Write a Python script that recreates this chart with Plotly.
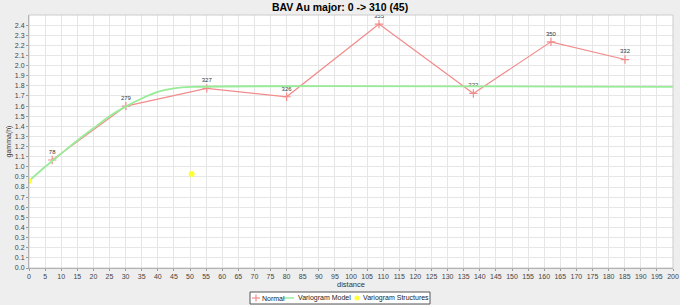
import plotly.graph_objects as go

# Experimental variogram (Normal)
lag_dist = [7.2, 30.1, 55.2, 80.0, 108.7, 138.0, 162.1, 185.1]
gamma = [1.067, 1.60, 1.775, 1.692, 2.41, 1.725, 2.235, 2.06]
pair_counts = ["78", "279", "327", "326", "355", "222", "350", "332"]

# Variogram model
model_x = [0, 5, 10, 15, 20, 25, 30, 35, 40, 45, 50.5, 200]
model_y = [0.86, 1.00, 1.13, 1.26, 1.38, 1.50, 1.595, 1.675, 1.74, 1.775, 1.79, 1.79]

# Variogram structures
struct_x = [0, 50.5]
struct_y = [0.86, 0.93]

x_ticks = list(range(0, 201, 5))
y_ticks = [round(i * 0.1, 1) for i in range(0, 25)]

series_names = ["Normal", "Variogram Model", "Variogram Structures"]
colors = {"Normal": "#f28b8b", "Variogram Model": "#98ec98", "Variogram Structures": "#ffff33"}

W, H = 680, 305
ML, MR, MT, MB = 29, 7, 15, 37
PW, PH = W - ML - MR, H - MT - MB


def px(x):
    return (x - ML) / PW


def py(y):
    return (H - MB - y) / PH


fig = go.Figure()
fig.add_trace(go.Scatter(
    x=lag_dist, y=gamma, mode="lines+markers+text", name=series_names[0],
    line=dict(color=colors["Normal"], width=1.2),
    marker=dict(symbol="cross-thin", size=6, line=dict(color=colors["Normal"], width=1.2)),
    text=pair_counts, textposition="top center",
    textfont=dict(size=6, color="#333333", family="Liberation Sans"),
))
fig.add_trace(go.Scatter(
    x=model_x, y=model_y, mode="lines", name=series_names[1],
    line=dict(color=colors["Variogram Model"], width=1.8, shape="spline", smoothing=0.6),
))
fig.add_trace(go.Scatter(
    x=struct_x, y=struct_y, mode="markers", name=series_names[2],
    marker=dict(symbol="circle", size=6, color=colors["Variogram Structures"]),
))

fig.update_layout(
    width=W, height=H,
    margin=dict(l=ML, r=MR, t=MT, b=MB, autoexpand=False),
    paper_bgcolor="#eeeeee", plot_bgcolor="#ffffff",
    title=dict(text="<b>BAV Au major: 0 -> 310 (45)</b>", x=0.5, xanchor="center",
               y=1 - 7 / H, yanchor="middle",
               font=dict(size=10.5, family="Liberation Sans", color="#000000")),
    font=dict(family="Liberation Sans", size=7, color="#444444"),
    showlegend=False,
)
fig.update_xaxes(
    range=[0, 200], tickvals=x_ticks, ticktext=[str(v) for v in x_ticks],
    showgrid=True, gridcolor="#e6e6e6", gridwidth=1,
    showline=True, linecolor="#999999", mirror=False,
    ticks="outside", ticklen=2, tickcolor="#999999",
    tickfont=dict(size=7), zeroline=False, ticklabeloverflow="allow",
    title=dict(text="distance", font=dict(size=7.5, color="#333333"), standoff=1),
)
fig.update_yaxes(
    range=[0, 2.5], tickvals=y_ticks, ticktext=[f"{v:.1f}" for v in y_ticks],
    showgrid=True, gridcolor="#e6e6e6", gridwidth=1,
    showline=True, linecolor="#999999", mirror=False,
    ticks="outside", ticklen=2, tickcolor="#999999",
    tickfont=dict(size=7), zeroline=False,
    title=dict(text="gamma(h)", font=dict(size=7, color="#333333"), standoff=2),
)
fig.add_shape(type="rect", xref="paper", yref="paper", x0=0, y0=0, x1=1, y1=1,
              line=dict(color="#cccccc", width=1))

# Compact legend box (like the original)
ly = 298
fig.add_shape(type="rect", xref="paper", yref="paper",
              x0=px(250), x1=px(430), y0=py(292), y1=py(304),
              line=dict(color="#555555", width=1), fillcolor="#ffffff", layer="above")
# Normal key: plus sign with a short line
fig.add_shape(type="line", xref="paper", yref="paper", x0=px(252), x1=px(260), y0=py(ly), y1=py(ly),
              line=dict(color=colors["Normal"], width=1.2))
fig.add_shape(type="line", xref="paper", yref="paper", x0=px(256), x1=px(256), y0=py(ly - 3.5), y1=py(ly + 3.5),
              line=dict(color=colors["Normal"], width=1.2))
# Variogram model key: line
fig.add_shape(type="line", xref="paper", yref="paper", x0=px(283), x1=px(294), y0=py(ly), y1=py(ly),
              line=dict(color=colors["Variogram Model"], width=1.5))
# Structures key: dot
fig.add_shape(type="circle", xref="paper", yref="paper", x0=px(354.5), x1=px(359.5),
              y0=py(ly - 2.5), y1=py(ly + 2.5),
              line=dict(color=colors["Variogram Structures"], width=0),
              fillcolor=colors["Variogram Structures"])
for name, x0 in zip(series_names, [261, 297, 362]):
    fig.add_annotation(text=name, xref="paper", yref="paper", x=px(x0), y=py(ly),
                       xanchor="left", yanchor="middle", showarrow=False, borderpad=0,
                       font=dict(size=7, family="Liberation Sans", color="#222222"))

fig.write_html("out.html")
